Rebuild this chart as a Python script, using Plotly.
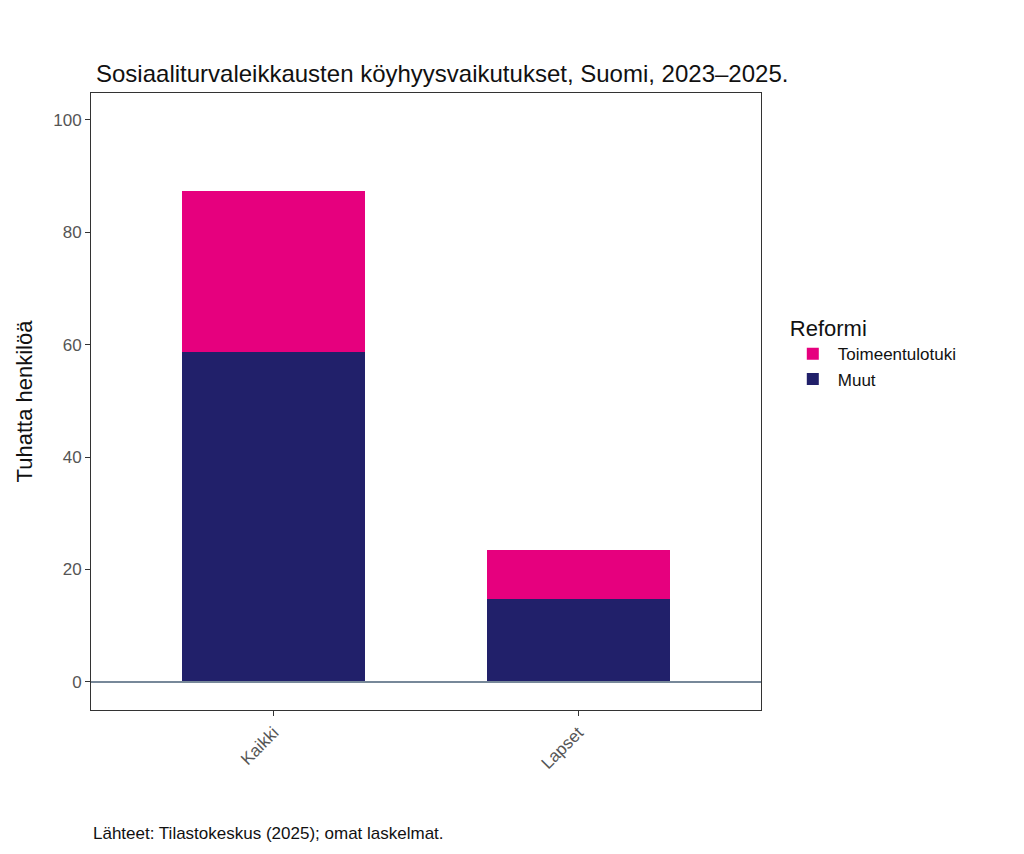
import plotly.graph_objects as go

categories = ["Kaikki", "Lapset"]
muut = [58.7, 14.8]
toimeentulotuki = [28.7, 8.7]
y_ticks = [0, 20, 40, 60, 80, 100]

fig = go.Figure()
fig.add_trace(go.Bar(x=[0, 1], y=muut, name="Muut", marker=dict(color="#21206a", line_width=0), width=0.6))
fig.add_trace(go.Bar(x=[0, 1], y=toimeentulotuki, name="Toimeentulotuki", marker=dict(color="#e6007e", line_width=0), width=0.6))
fig.add_hline(y=0, line=dict(color="#778899", width=2))

fig.update_layout(
    barmode="stack", width=1024, height=854,
    paper_bgcolor="white", plot_bgcolor="white",
    font=dict(family="Liberation Sans, Arial", color="#222"),
    margin=dict(l=83, r=271, t=85, b=152),
    title=dict(text="Sosiaaliturvaleikkausten köyhyysvaikutukset, Suomi, 2023–2025.",
               x=88/1024, xanchor="left", y=1-66/854, yanchor="middle", font=dict(size=24, color="#111")),
    legend=dict(title=dict(text="Reformi", font=dict(size=22, color="#111")), traceorder="reversed",
                x=1.04, xanchor="left", y=0.58, yanchor="middle", font=dict(size=17, color="#111"),
                tracegroupgap=12, itemwidth=40),
    xaxis=dict(range=[-0.6, 1.6], tickvals=[0, 1], ticktext=categories, tickangle=-45,
               showline=True, linecolor="#333", mirror=True, ticks="outside", ticklen=5,
               tickcolor="#333", tickfont=dict(size=17, color="#555"), showgrid=False, zeroline=False),
    yaxis=dict(range=[-5, 104.8], tickvals=y_ticks, showline=True, linecolor="#333", mirror=True,
               ticks="outside", ticklen=5, tickcolor="#333", tickfont=dict(size=17, color="#555"),
               showgrid=False, zeroline=False,
               title=dict(text="Tuhatta henkilöä", font=dict(size=22, color="#111"), standoff=14)),
)
fig.add_annotation(text="Lähteet: Tilastokeskus (2025); omat laskelmat.", xref="paper", yref="paper",
                   x=0, y=-0.20, xanchor="left", yanchor="middle", showarrow=False,
                   font=dict(size=17, color="#111"))
fig.write_html("out.html")
